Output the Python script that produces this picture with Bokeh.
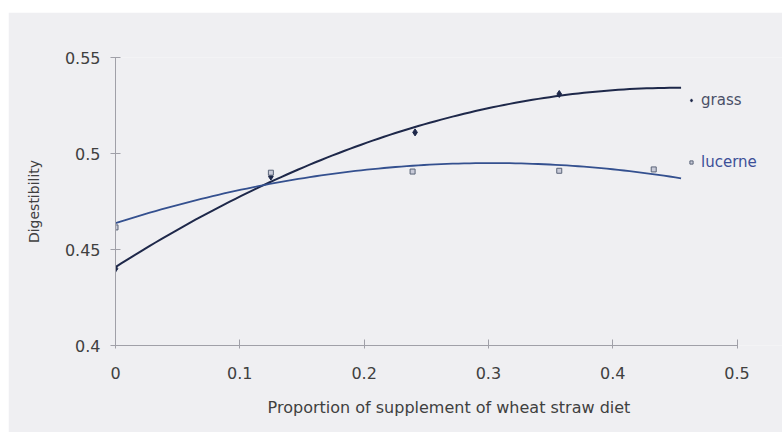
import numpy as np
from bokeh.plotting import figure
from bokeh.models import Range1d, FixedTicker, Legend, LegendItem
from bokeh.embed import file_html
from bokeh.resources import INLINE

# Data
grass_x = [0.0, 0.125, 0.241, 0.357]
grass_y = [0.440, 0.488, 0.511, 0.531]
lucerne_x = [0.0, 0.125, 0.239, 0.357, 0.433]
lucerne_y = [0.4615, 0.490, 0.4906, 0.491, 0.4917]

x_ticks = [0, 0.1, 0.2, 0.3, 0.4, 0.5]
x_tick_labels = ["0", "0.1", "0.2", "0.3", "0.4", "0.5"]
y_ticks = [0.4, 0.45, 0.5, 0.55]
y_tick_labels = ["0.4", "0.45", "0.5", "0.55"]
trend_end = 0.455

BG = "#efeff2"
GRASS = "#1e284a"
LUCERNE = "#34508f"
FONT = "DejaVu Sans"

p = figure(width=774, height=420, output_backend="svg", toolbar_location=None,
           x_range=Range1d(0, 0.5366), y_range=Range1d(0.4, 0.55),
           min_border_left=107, min_border_right=0, min_border_top=45, min_border_bottom=87)
p.styles = {"margin-left": "8px", "margin-top": "12px"}
p.background_fill_color = BG
p.border_fill_color = BG
p.outline_line_color = None
p.grid.visible = False

# Quadratic trend lines fitted to the data (as in the original)
xs = np.linspace(0, trend_end, 100)
g_fit = np.polyval(np.polyfit(grass_x, grass_y, 2), xs)
l_fit = np.polyval(np.polyfit(lucerne_x, lucerne_y, 2), xs)
p.line(xs, g_fit, line_color=GRASS, line_width=2)
p.line(xs, l_fit, line_color=LUCERNE, line_width=1.8)

gr = p.scatter(grass_x, grass_y, marker="diamond", size=7, fill_color=GRASS, line_color=GRASS)
lr = p.scatter(lucerne_x, lucerne_y, marker="square", size=5, fill_color="#c8cad8",
               line_color="#5a6478", line_width=1)

for ax, ticks, labels in ((p.xaxis, x_ticks, x_tick_labels), (p.yaxis, y_ticks, y_tick_labels)):
    ax.ticker = FixedTicker(ticks=ticks)
    ax.major_label_overrides = {t: l for t, l in zip(ticks, labels)}
    ax.minor_tick_line_color = None
    ax.axis_line_color = "#a0a0a8"
    ax.major_tick_line_color = "#a0a0a8"
    ax.major_label_text_font = FONT
    ax.major_label_text_font_size = "16px"
    ax.major_label_text_color = "#404040"
    ax.axis_label_text_font = FONT
    ax.axis_label_text_font_style = "normal"
    ax.axis_label_text_color = "#404040"

p.xaxis.bounds = (0, 0.5)
p.xaxis.major_tick_in = 6
p.xaxis.major_tick_out = 3
p.xaxis.major_label_standoff = 18
p.xaxis.axis_label = "Proportion of supplement of wheat straw diet"
p.xaxis.axis_label_text_font_size = "16px"
p.xaxis.axis_label_standoff = 16
p.yaxis.major_tick_in = 5
p.yaxis.major_tick_out = 5
p.yaxis.major_label_standoff = 10
p.yaxis.axis_label = "Digestibility"
p.yaxis.axis_label_text_font_size = "14px"
p.yaxis.axis_label_standoff = 20


def make_legend(label, renderer, color, loc):
    lg = Legend(items=[LegendItem(label=label, renderers=[renderer])], location=loc,
                padding=0, margin=0, glyph_width=8, glyph_height=12, label_height=12,
                label_standoff=6, border_line_color=None, background_fill_alpha=0,
                label_text_font=FONT, label_text_font_size="15px", label_text_color=color)
    return lg


p.add_layout(make_legend("grass", gr, "#4a5068", (572, 236)))
p.add_layout(make_legend("lucerne", lr, "#3c4f98", (572, 174)))

open("out.html", "w").write(file_html(p, INLINE))
